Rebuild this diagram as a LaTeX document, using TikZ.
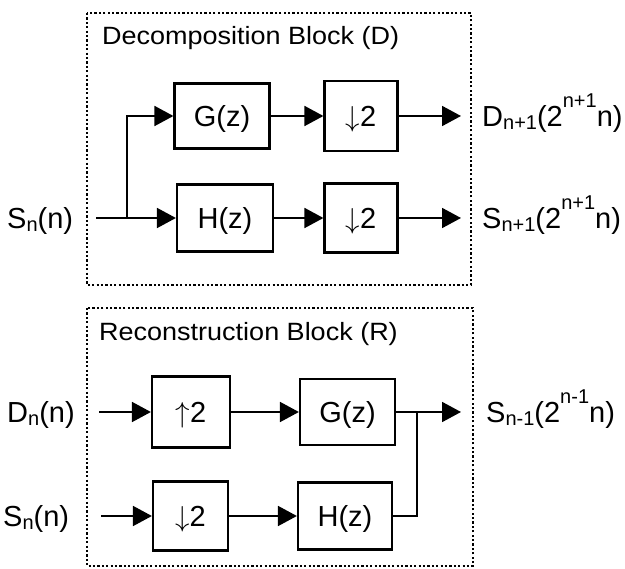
\documentclass[tikz,border=0pt]{standalone}
\usepackage{fontspec}
\setmainfont{Liberation Sans}
\newfontfamily\ttlfont{Liberation Sans}[FakeStretch=1.08]
\usetikzlibrary{arrows.meta}
\newcommand\lsub[1]{\raisebox{-0.1em}{\fontsize{20}{20}\selectfont #1}}
\newcommand\lsup[1]{\raisebox{0.64em}{\fontsize{20}{20}\selectfont #1}}
\newcommand\dnarr{\scalebox{1.16}{$\downarrow$}}
\newcommand\uparr{\scalebox{1.16}{$\uparrow$}}
\begin{document}
\begin{tikzpicture}[x=1pt,y=-1pt,
  blk/.style={draw, line width=2.2pt, inner sep=0pt, font=\fontsize{29}{35}\selectfont, text height=20.8pt, text depth=0pt},
  lab/.style={font=\fontsize{29}{35}\selectfont, inner sep=0pt, anchor=base west},
  ttl/.style={font=\ttlfont\fontsize{25}{30}\selectfont, inner sep=0pt, anchor=base west},
  conn/.style={line width=1.9pt, -{Triangle[length=19pt,width=20pt]}},
  wire/.style={line width=1.9pt},
  frame/.style={line width=2.7pt, dash pattern=on 2.2pt off 2.2pt}]
\useasboundingbox (0,0) rectangle (625,569);
% frames
\draw[frame] (87,13) rectangle (471,285);
\draw[frame] (87,308) rectangle (473,566);
\node[ttl] (t1) at (102,45) {Decomposition Block (D)};
\node[ttl] (t2) at (99,341) {Reconstruction Block (R)};
% top blocks
\node[blk, minimum width=95pt, minimum height=65pt] (G1) at (222,116) {G(z)};
\node[blk, minimum width=73pt, minimum height=70pt] (D1) at (361,116) {\dnarr2};
\node[blk, minimum width=96pt, minimum height=67pt] (H1) at (225,218) {H(z)};
\node[blk, minimum width=73pt, minimum height=69pt] (D2) at (361,218) {\dnarr2};
\node[lab] (Sin) at (7,228.4) {S\lsub{n}(n)};
\node[lab] (Dout) at (482,126.4) {D\lsub{n+1}(2\lsup{n+1}n)};
\node[lab] (Sout) at (482,228.4) {S\lsub{n+1}(2\lsup{n+1}n)};
\coordinate (in1) at (96,218);
\coordinate (br) at (127,218);
\coordinate (o1) at (461,116);
\coordinate (o2) at (461,218);
\draw[conn] (in1) -- (H1.west);
\draw[conn] (br) |- (G1.west);
\draw[conn] (G1.east) -- (D1.west);
\draw[conn] (H1.east) -- (D2.west);
\draw[conn] (D1.east) -- (o1);
\draw[conn] (D2.east) -- (o2);
% bottom blocks
\node[blk, minimum width=78pt, minimum height=71pt] (U1) at (191,412) {\uparr2};
\node[blk, minimum width=95pt, minimum height=66pt] (G2) at (347.5,412) {G(z)};
\node[blk, minimum width=75pt, minimum height=69pt] (D3) at (190.5,516) {\dnarr2};
\node[blk, minimum width=94pt, minimum height=67pt] (H2) at (345,516) {H(z)};
\node[lab] (Dn) at (7,422.4) {D\lsub{n}(n)};
\node[lab] (Sn) at (3,526.4) {S\lsub{n}(n)};
\node[lab] (So) at (486,422.4) {S\lsub{n-1}(2\lsup{n-1}n)};
\coordinate (in2) at (99,412);
\coordinate (in3) at (101,516);
\coordinate (J) at (417,412);
\coordinate (o3) at (461,412);
\draw[conn] (in2) -- (U1.west);
\draw[conn] (in3) -- (D3.west);
\draw[conn] (U1.east) -- (G2.west);
\draw[conn] (D3.east) -- (H2.west);
\draw[conn] (G2.east) -- (o3);
\draw[wire] (H2.east) -| (J);
\end{tikzpicture}
\end{document}
